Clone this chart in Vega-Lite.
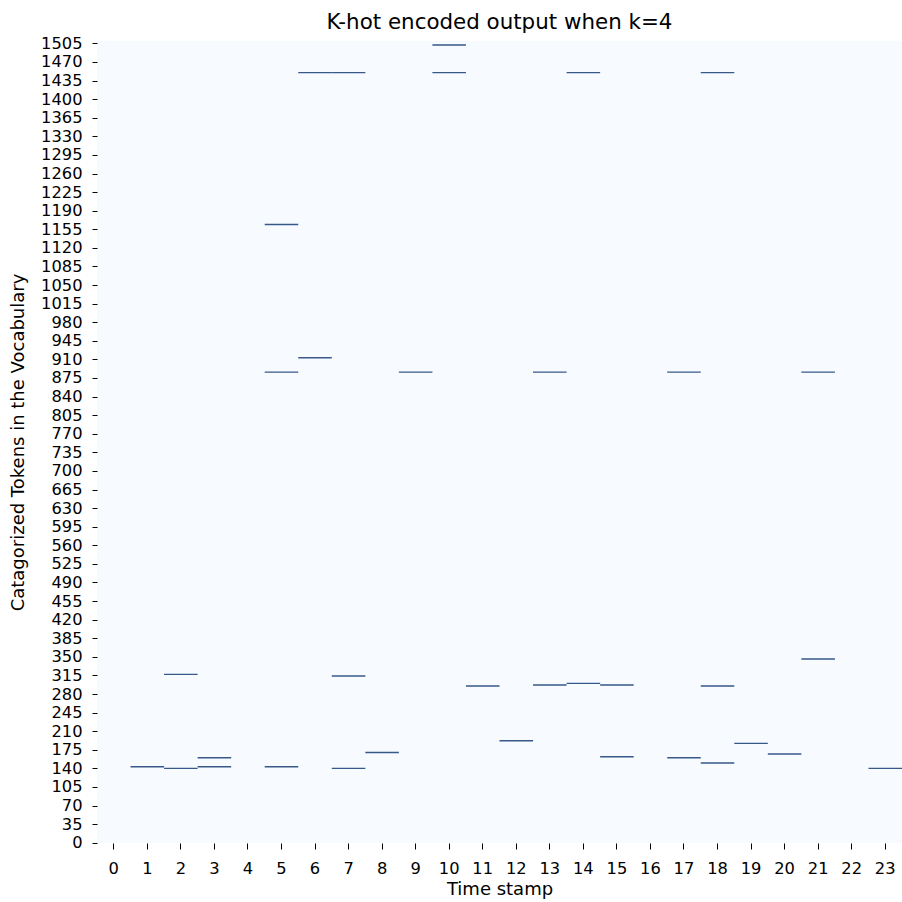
{
  "$schema": "https://vega.github.io/schema/vega-lite/v6.json",
  "width": 805,
  "height": 802,
  "autosize": {"type": "none"},
  "padding": {"left": 97, "top": 41, "right": 0, "bottom": 59},
  "background": "white",
  "title": {
    "text": "K-hot encoded output when k=4",
    "font": "DejaVu Sans",
    "fontSize": 21.4,
    "fontWeight": "normal",
    "color": "#000000",
    "anchor": "middle",
    "baseline": "alphabetic",
    "offset": 9,
    "dy": 24
  },
  "data": {
    "values": [
      {"t": 1, "token": 143},
      {"t": 2, "token": 317}, {"t": 2, "token": 140},
      {"t": 3, "token": 160}, {"t": 3, "token": 143},
      {"t": 5, "token": 1164}, {"t": 5, "token": 886}, {"t": 5, "token": 143},
      {"t": 6, "token": 1450}, {"t": 6, "token": 913},
      {"t": 7, "token": 1450}, {"t": 7, "token": 314}, {"t": 7, "token": 140},
      {"t": 8, "token": 170},
      {"t": 9, "token": 886},
      {"t": 10, "token": 1502}, {"t": 10, "token": 1450},
      {"t": 11, "token": 295},
      {"t": 12, "token": 192},
      {"t": 13, "token": 886}, {"t": 13, "token": 297},
      {"t": 14, "token": 1450}, {"t": 14, "token": 300},
      {"t": 15, "token": 297}, {"t": 15, "token": 162},
      {"t": 17, "token": 886}, {"t": 17, "token": 160},
      {"t": 18, "token": 1450}, {"t": 18, "token": 295}, {"t": 18, "token": 150},
      {"t": 19, "token": 187},
      {"t": 20, "token": 167},
      {"t": 21, "token": 886}, {"t": 21, "token": 346},
      {"t": 23, "token": 140}
    ]
  },
  "mark": {"type": "tick", "color": "#08306b", "thickness": 1.4, "opacity": 0.8},
  "encoding": {
    "x": {
      "field": "t",
      "type": "ordinal",
      "scale": {
        "domain": [0,1,2,3,4,5,6,7,8,9,10,11,12,13,14,15,16,17,18,19,20,21,22,23],
        "paddingInner": 0,
        "paddingOuter": 0
      },
      "axis": {
        "title": "Time stamp",
        "labelAngle": 0,
        "domain": false,
        "tickSize": 6,
        "labelPadding": 11,
        "titlePadding": 4
      }
    },
    "y": {
      "field": "token",
      "type": "quantitative",
      "scale": {"domain": [-0.5, 1509.5], "nice": false, "zero": false},
      "axis": {
        "title": "Catagorized Tokens in the Vocabulary",
        "format": "d",
        "values": [0,35,70,105,140,175,210,245,280,315,350,385,420,455,490,525,560,595,630,665,700,735,770,805,840,875,910,945,980,1015,1050,1085,1120,1155,1190,1225,1260,1295,1330,1365,1400,1435,1470,1505],
        "grid": false,
        "domain": false,
        "tickSize": 5,
        "labelPadding": 10,
        "labelOverlap": false,
        "labelBaseline": "middle",
        "titlePadding": 13
      }
    }
  },
  "config": {
    "view": {"fill": "#f7fbff", "stroke": null},
    "tick": {"bandSize": 33.54},
    "axis": {
      "labelFont": "DejaVu Sans",
      "titleFont": "DejaVu Sans",
      "labelFontSize": 16.3,
      "titleFontSize": 18,
      "titleFontWeight": "normal",
      "labelColor": "#000000",
      "titleColor": "#000000",
      "tickColor": "#000000",
      "tickWidth": 1
    }
  }
}
